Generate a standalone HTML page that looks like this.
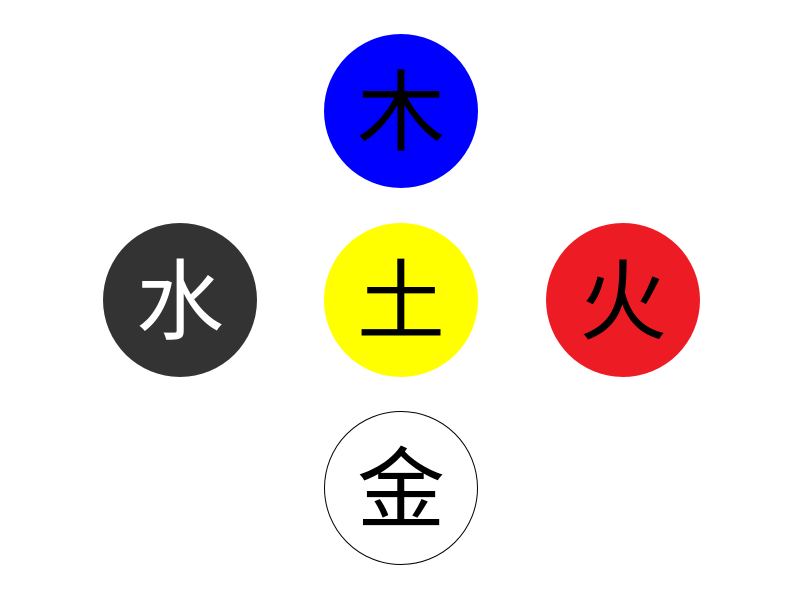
<!DOCTYPE html>
<html><head><meta charset="utf-8"><style>html,body{margin:0;padding:0;background:#fff;}svg{display:block}text{font-family:"Liberation Sans","Noto Sans CJK SC",sans-serif;font-size:88px;text-anchor:middle;dominant-baseline:central;}</style></head>
<body>
<svg width="800" height="600" viewBox="0 0 800 600">
<circle cx="401" cy="111" r="77" fill="#0000ff"/>
<text x="401" y="113">木</text>
<circle cx="180" cy="300" r="77" fill="#333333"/>
<text x="180" y="302" fill="#ffffff">水</text>
<circle cx="401" cy="300" r="77" fill="#ffff00"/>
<text x="401" y="302">土</text>
<circle cx="623" cy="300" r="77" fill="#ed1c24"/>
<text x="623" y="302">火</text>
<circle cx="401" cy="488" r="76.5" fill="#ffffff" stroke="#000" stroke-width="1"/>
<text x="401" y="490">金</text>
</svg>
</body></html>
